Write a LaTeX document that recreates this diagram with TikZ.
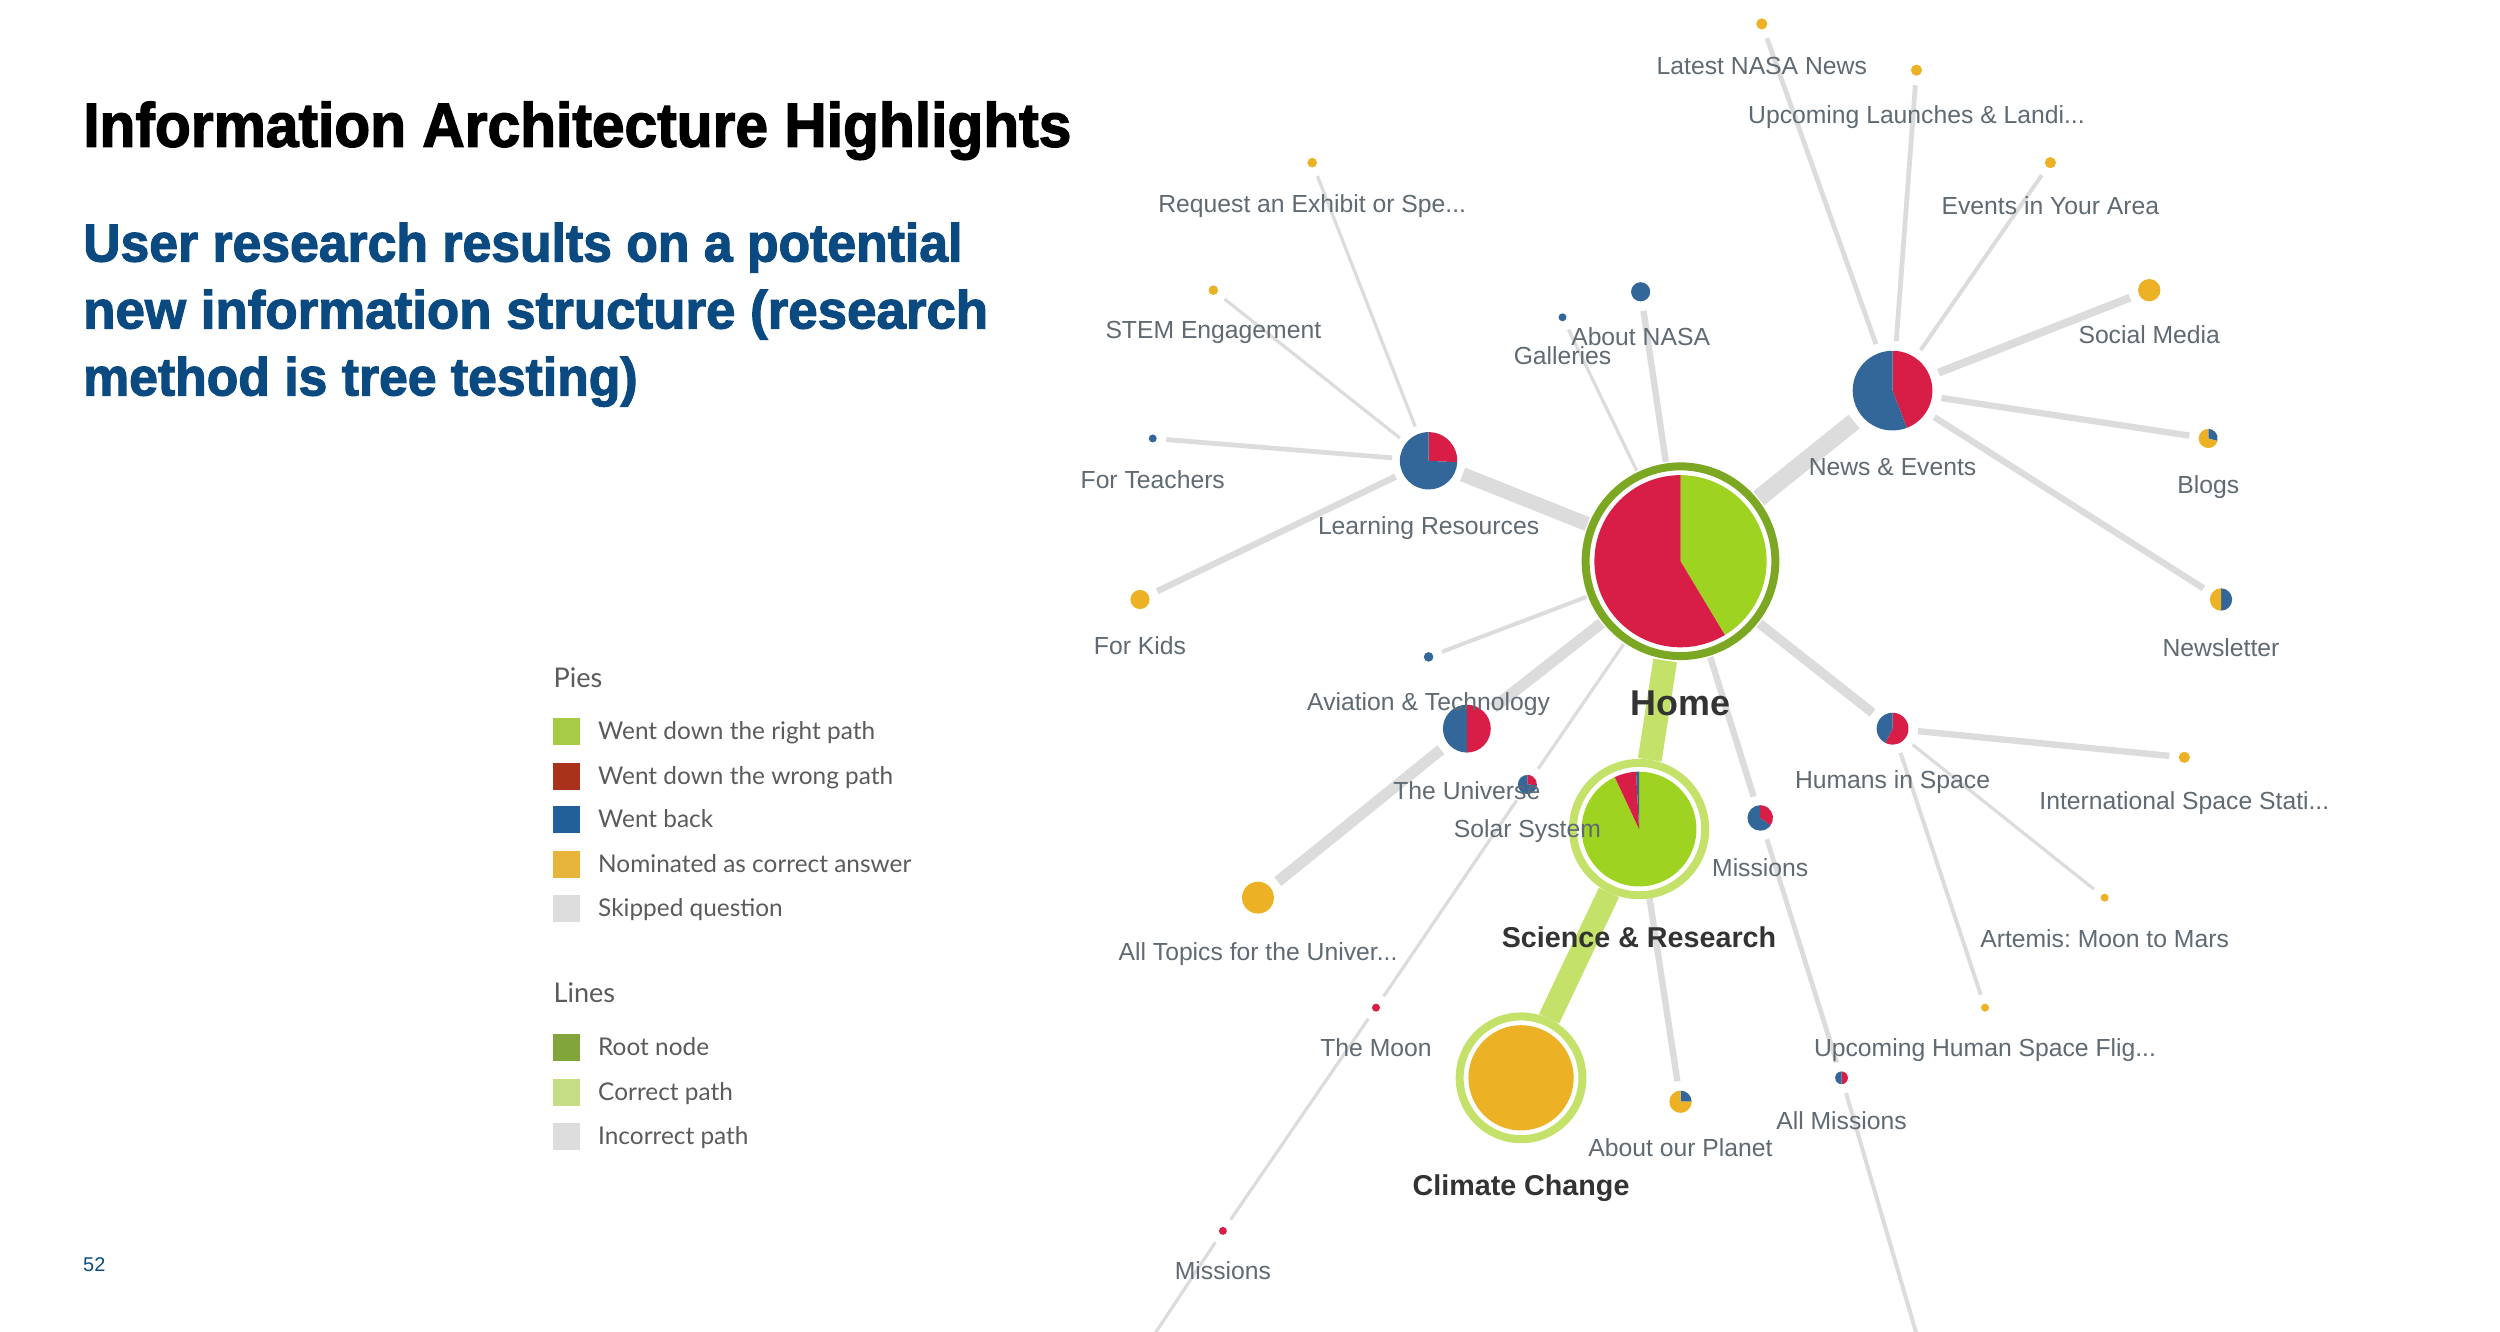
\documentclass[tikz,border=0pt]{standalone}
\usepackage{fontspec}
\usepackage{graphicx}
\setmainfont{Liberation Sans}
\newfontfamily\titlefont[FakeBold=2.2]{Liberation Sans Bold}
\newfontfamily\legfont{Lato}
\definecolor{pgreen}{HTML}{9ED321}
\definecolor{pred}{HTML}{D81E47}
\definecolor{pblue}{HTML}{33679A}
\definecolor{pgold}{HTML}{EDB125}
\definecolor{linegray}{HTML}{DCDCDC}
\definecolor{lblgray}{HTML}{5F6A72}
\definecolor{darklbl}{HTML}{333333}
\definecolor{rootring}{HTML}{7BA722}
\definecolor{correct}{HTML}{C4E269}
\definecolor{lgreen}{HTML}{A6CC47}
\definecolor{lred}{HTML}{A8331A}
\definecolor{lblue}{HTML}{22609A}
\definecolor{lgold}{HTML}{E8B53C}
\definecolor{lgray}{HTML}{DDDDDD}
\definecolor{lroot}{HTML}{82A53B}
\definecolor{lcorrect}{HTML}{C5DD85}
\definecolor{subblue}{HTML}{0B4A80}
\definecolor{legtext}{HTML}{5B5B5B}
\newcommand{\pslice}[5]{\fill[#5] (#1) -- ++(#2:#4) arc[start angle=#2,end angle=#3,radius=#4] -- cycle;}
\newcommand{\pdot}[3]{\fill[#3] (#1) circle[radius=#2];}
\tikzset{
  nd/.style={circle,inner sep=0pt,outer sep=0pt,minimum size=#1pt},
  ln/.style={draw=linegray,line width=#1pt},
  gln/.style={draw=correct,line width=#1pt},
  lbl/.style={font=\fontsize{15.5}{18}\selectfont,text=lblgray,anchor=base,inner sep=0pt},
  blbl/.style={font=\fontsize{18}{21}\selectfont\bfseries,text=darklbl,anchor=base,inner sep=0pt},
  sq/.style={minimum size=17pt,inner sep=0pt,outer sep=0pt},
  legtxt/.style={font=\legfont\fontsize{15.3}{18}\selectfont,text=legtext,anchor=base west,inner sep=0pt},
  leghead/.style={font=\legfont\fontsize{17}{20}\selectfont,text=legtext,anchor=base west,inner sep=0pt}
}
\begin{document}
\begin{tikzpicture}[x=1pt,y=1pt]
\fill[white] (0,0) rectangle (1568,-835);
\useasboundingbox (0,0) rectangle (1568,-835);

% titles
\node[anchor=base west,inner sep=0pt] (title) at (52,-92)
  {\scalebox{0.944}[1]{\titlefont\fontsize{39}{44}\selectfont Information Architecture Highlights}};
\node[anchor=base west,inner sep=0pt,text=subblue] (sub1) at (52,-164)
  {\scalebox{0.968}[1]{\titlefont\fontsize{33.5}{40}\selectfont User research results on a potential}};
\node[anchor=base west,inner sep=0pt,text=subblue] (sub2) at (52,-206)
  {\scalebox{0.99}[1]{\titlefont\fontsize{33.5}{40}\selectfont new information structure (research}};
\node[anchor=base west,inner sep=0pt,text=subblue] (sub3) at (52,-248)
  {\scalebox{0.968}[1]{\titlefont\fontsize{33.5}{40}\selectfont method is tree testing)}};
\node[anchor=base west,inner sep=0pt,text=subblue,font=\fontsize{12.5}{15}\selectfont] (pageno) at (52,-797.5) {52};

% legend
\node[leghead] (hpies) at (347,-431) {Pies};
\node[sq,fill=lgreen] (k1) at (355.5,-459) {};
\node[legtxt] (t1) at (375,-464) {Went down the right path};
\node[sq,fill=lred] (k2) at (355.5,-487) {};
\node[legtxt] (t2) at (375,-492) {Went down the wrong path};
\node[sq,fill=lblue] (k3) at (355.5,-514) {};
\node[legtxt] (t3) at (375,-519) {Went back};
\node[sq,fill=lgold] (k4) at (355.5,-542) {};
\node[legtxt] (t4) at (375,-547) {Nominated as correct answer};
\node[sq,fill=lgray] (k5) at (355.5,-570) {};
\node[legtxt] (t5) at (375,-575) {Skipped question};
\node[leghead] (hlines) at (347,-629) {Lines};
\node[sq,fill=lroot] (k6) at (355.5,-657) {};
\node[legtxt] (t6) at (375,-662) {Root node};
\node[sq,fill=lcorrect] (k7) at (355.5,-685) {};
\node[legtxt] (t7) at (375,-690) {Correct path};
\node[sq,fill=lgray] (k8) at (355.5,-713) {};
\node[legtxt] (t8) at (375,-718) {Incorrect path};

% graph nodes (size = diameter incl. gap)
\node[nd=126] (home) at (1054,-352) {};
\node[nd=88] (sr) at (1028,-520) {};
\node[nd=82] (cc) at (954,-676) {};
\node[nd=46] (lr) at (896,-289) {};
\node[nd=62] (ne) at (1187,-245) {};
\node[nd=18] (req) at (823,-102) {};
\node[nd=18] (stem) at (761,-182) {};
\node[nd=17] (teach) at (723,-275) {};
\node[nd=24] (kids) at (715,-376) {};
\node[nd=17] (gal) at (980,-199) {};
\node[nd=24] (anasa) at (1029,-183) {};
\node[nd=19] (latest) at (1105,-15) {};
\node[nd=19] (upl) at (1202,-44) {};
\node[nd=19] (events) at (1286,-102) {};
\node[nd=26] (social) at (1348,-182) {};
\node[nd=24] (blogs) at (1385,-275) {};
\node[nd=26] (news) at (1393,-376) {};
\node[nd=32] (his) at (1187,-457) {};
\node[nd=19] (iss) at (1370,-475) {};
\node[nd=17] (artemis) at (1320,-563) {};
\node[nd=17] (uhsf) at (1245,-632) {};
\node[nd=28] (mr) at (1104,-513) {};
\node[nd=20] (allm) at (1155,-676) {};
\node[nd=26] (aop) at (1054,-691) {};
\node[nd=18] (avi) at (896,-412) {};
\node[nd=42] (univ) at (920,-457) {};
\node[nd=24] (ss) at (958,-492) {};
\node[nd=32] (atu) at (789,-563) {};
\node[nd=17] (moon) at (863,-632) {};
\node[nd=17] (ml) at (767,-772) {};
\coordinate (off1) at (722,-840);
\coordinate (off2) at (1203,-840);

% connectors
\draw[ln=9] (home) -- (lr);
\draw[ln=11] (home) -- (ne);
\draw[ln=4] (home) -- (anasa);
\draw[ln=2] (home) -- (gal);
\draw[ln=2.5] (home) -- (avi);
\draw[ln=7] (home) -- (univ);
\draw[ln=2] (home) -- (ss);
\draw[ln=4] (home) -- (mr);
\draw[ln=6] (home) -- (his);
\draw[ln=2] (lr) -- (req);
\draw[ln=2] (lr) -- (stem);
\draw[ln=3] (lr) -- (teach);
\draw[ln=4] (lr) -- (kids);
\draw[ln=3] (ne) -- (latest);
\draw[ln=3] (ne) -- (upl);
\draw[ln=2.5] (ne) -- (events);
\draw[ln=5] (ne) -- (social);
\draw[ln=4] (ne) -- (blogs);
\draw[ln=4] (ne) -- (news);
\draw[ln=4] (his) -- (iss);
\draw[ln=2] (his) -- (artemis);
\draw[ln=2.5] (his) -- (uhsf);
\draw[ln=3] (mr) -- (allm);
\draw[ln=2.5] (allm) -- (off2);
\draw[ln=4] (sr) -- (aop);
\draw[ln=7] (univ) -- (atu);
\draw[ln=2] (ss) -- (moon);
\draw[ln=2] (moon) -- (ml);
\draw[ln=2] (ml) -- (off1);
\draw[gln=15] (home) -- (sr);
\draw[gln=14] (sr) -- (cc);

% rings
\draw[rootring,line width=5pt] (home.center) circle[radius=59.5];
\draw[correct,line width=5pt] (sr.center) circle[radius=41.5];
\draw[correct,line width=5pt] (cc.center) circle[radius=38.5];

% pies
\pslice{home.center}{-59}{90}{54}{pgreen}
\pslice{home.center}{90}{301}{54}{pred}
\pslice{sr.center}{115}{450}{36}{pgreen}
\pslice{sr.center}{93}{115}{36}{pred}
\pslice{sr.center}{90}{93}{36}{pblue}
\pdot{cc.center}{33}{pgold}
\pslice{lr.center}{-3}{90}{18}{pred}
\pslice{lr.center}{90}{357}{18}{pblue}
\pslice{ne.center}{-69}{90}{25}{pred}
\pslice{ne.center}{90}{291}{25}{pblue}
\pslice{blogs.center}{-15}{90}{6}{pblue}
\pslice{blogs.center}{90}{345}{6}{pgold}
\pslice{news.center}{-90}{90}{7}{pblue}
\pslice{news.center}{90}{270}{7}{pgold}
\pslice{his.center}{-117}{90}{10}{pred}
\pslice{his.center}{90}{243}{10}{pblue}
\pslice{mr.center}{-36}{90}{8}{pred}
\pslice{mr.center}{90}{324}{8}{pblue}
\pslice{allm.center}{-90}{90}{4}{pred}
\pslice{allm.center}{90}{270}{4}{pblue}
\pslice{aop.center}{0}{90}{7}{pblue}
\pslice{aop.center}{90}{360}{7}{pgold}
\pslice{univ.center}{-90}{90}{15}{pred}
\pslice{univ.center}{90}{270}{15}{pblue}
\pslice{ss.center}{-5}{90}{6}{pred}
\pslice{ss.center}{90}{355}{6}{pblue}
\pdot{req.center}{3}{pgold}
\pdot{stem.center}{3}{pgold}
\pdot{teach.center}{2.5}{pblue}
\pdot{kids.center}{6}{pgold}
\pdot{gal.center}{2.5}{pblue}
\pdot{anasa.center}{6}{pblue}
\pdot{latest.center}{3.5}{pgold}
\pdot{upl.center}{3.5}{pgold}
\pdot{events.center}{3.5}{pgold}
\pdot{social.center}{7}{pgold}
\pdot{iss.center}{3.5}{pgold}
\pdot{artemis.center}{2.5}{pgold}
\pdot{uhsf.center}{2.5}{pgold}
\pdot{avi.center}{3}{pblue}
\pdot{atu.center}{10}{pgold}
\pdot{moon.center}{2.5}{pred}
\pdot{ml.center}{2.5}{pred}

% labels
\node[lbl] (Llatest) at (1105,-46.5) {Latest NASA News};
\node[lbl] (Lupl) at (1202,-77.5) {Upcoming Launches \& Landi...};
\node[lbl] (Lreq) at (823,-133.5) {Request an Exhibit or Spe...};
\node[lbl] (Levents) at (1286,-134.5) {Events in Your Area};
\node[lbl] (Lstem) at (761,-212.5) {STEM Engagement};
\node[lbl] (Lanasa) at (1029,-216.5) {About NASA};
\node[lbl] (Lgal) at (980,-228.5) {Galleries};
\node[lbl] (Lsocial) at (1348,-215.5) {Social Media};
\node[lbl] (Lteach) at (723,-306.5) {For Teachers};
\node[lbl] (Lne) at (1187,-298.5) {News \& Events};
\node[lbl] (Lblogs) at (1385,-309.5) {Blogs};
\node[lbl] (Llr) at (896,-335.5) {Learning Resources};
\node[lbl] (Lkids) at (715,-410.5) {For Kids};
\node[lbl] (Lnews) at (1393,-411.5) {Newsletter};
\node[lbl] (Lavi) at (896,-445.5) {Aviation \& Technology};
\node[blbl,font=\fontsize{22.5}{26}\selectfont\bfseries] (Lhome) at (1054,-449) {Home};
\node[lbl] (Luniv) at (920,-501.5) {The Universe};
\node[lbl] (Lhis) at (1187,-494.5) {Humans in Space};
\node[lbl] (Liss) at (1370,-507.5) {International Space Stati...};
\node[lbl] (Lss) at (958,-525.5) {Solar System};
\node[lbl] (Lmr) at (1104,-549.5) {Missions};
\node[blbl] (Lsr) at (1028,-594.5) {Science \& Research};
\node[lbl] (Lartemis) at (1320,-594.5) {Artemis:\ Moon to Mars};
\node[lbl] (Latu) at (789,-602.5) {All Topics for the Univer...};
\node[lbl] (Lmoon) at (863,-662.5) {The Moon};
\node[lbl] (Luhsf) at (1245,-662.5) {Upcoming Human Space Flig...};
\node[lbl] (Lallm) at (1155,-708.5) {All Missions};
\node[lbl] (Laop) at (1054,-725.5) {About our Planet};
\node[blbl] (Lcc) at (954,-749.5) {Climate Change};
\node[lbl] (Lml) at (767,-802.5) {Missions};
\end{tikzpicture}
\end{document}
